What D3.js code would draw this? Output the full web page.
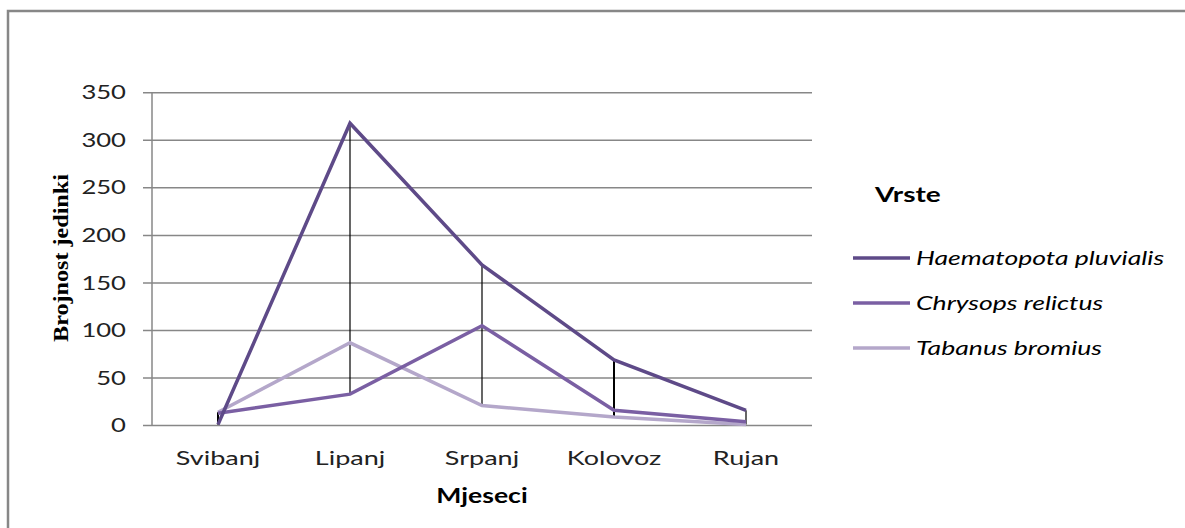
<!DOCTYPE html>
<html><head><meta charset="utf-8">
<script src="https://cdn.jsdelivr.net/npm/d3@7"></script>
<style>body{margin:0;background:#fff}svg{display:block}</style>
</head><body>
<script>
const months = ["Svibanj","Lipanj","Srpanj","Kolovoz","Rujan"];
const seriesNames = ["Haematopota pluvialis","Chrysops relictus","Tabanus bromius"];
const haematopota = [1, 318, 169, 69, 16];
const chrysops = [13, 33, 105, 16, 4];
const tabanus = [14, 87, 21, 9, 1];
const yTicks = [0,50,100,150,200,250,300,350];
const colors = ["#5e4a88","#7a5fa3","#b4a7ca"];

const W=1185,H=528;
const FONT="Lato, 'Open Sans', sans-serif";
const SX=1.35;
const svg=d3.select("body").append("svg").attr("width",W).attr("height",H);
svg.append("rect").attr("x",8).attr("y",11).attr("width",W+10).attr("height",H+10)
  .attr("fill","#fff").attr("stroke","#878787").attr("stroke-width",2.5);

const x0=152,x1=812,yTop=92.8,yBot=425.5;
const x=d3.scaleBand().domain(months).range([x0,x1]);
const y=d3.scaleLinear().domain([0,350]).range([yBot,yTop]);
const cx=m=>x(m)+x.bandwidth()/2;

// gridlines
svg.append("g").selectAll("line").data(yTicks).join("line")
  .attr("x1",x0-9).attr("x2",x1).attr("y1",d=>y(d)).attr("y2",d=>y(d))
  .attr("stroke","#878787").attr("stroke-width",1.5);
svg.append("line").attr("x1",x0).attr("x2",x0).attr("y1",yTop).attr("y2",yBot)
  .attr("stroke","#878787").attr("stroke-width",1.5);

const yAxis=svg.append("g").attr("transform",`translate(126,0)`)
  .call(d3.axisLeft(y).tickValues(yTicks).tickSize(0).tickPadding(0));
yAxis.select(".domain").remove();
yAxis.selectAll("text").attr("font-family",FONT).attr("font-size",19).attr("fill","#222")
  .attr("transform",`scale(${SX},1)`);

const xAxis=svg.append("g").attr("transform",`translate(0,${yBot})`)
  .call(d3.axisBottom(x).tickSize(0).tickPadding(25));
xAxis.select(".domain").remove();
xAxis.selectAll("text").attr("font-family",FONT).attr("font-size",20).attr("fill","#222")
  .attr("transform",`scale(${SX},1)`);

// hi-lo lines
const all=[haematopota,chrysops,tabanus];
svg.append("g").selectAll("line").data(months).join("line")
  .attr("x1",cx).attr("x2",cx)
  .attr("y1",(m,i)=>y(d3.max(all,s=>s[i])))
  .attr("y2",(m,i)=>y(d3.min(all,s=>s[i])))
  .attr("stroke","#000").attr("stroke-width",(m,i)=>i===3||i===0?2:1.2);

// lines
const line=d3.line().x((d,i)=>cx(months[i])).y(d=>y(d));
[tabanus,chrysops,haematopota].forEach((s,k)=>{
  svg.append("path").attr("d",line(s)).attr("fill","none")
    .attr("stroke",colors[2-k]).attr("stroke-width",3.5).attr("stroke-linejoin","miter");
});

// axis titles
svg.append("text").attr("transform","translate(68,258) rotate(-90) scale(1.15,1)").attr("text-anchor","middle")
  .attr("font-family","'Liberation Serif', 'Times New Roman', serif").attr("font-weight","bold")
  .attr("font-size",21).text("Brojnost jedinki");
svg.append("text").attr("transform",`translate(${cx("Srpanj")},503) scale(1.33,1)`).attr("text-anchor","middle")
  .attr("font-family",FONT).attr("font-weight","bold")
  .attr("font-size",20).text("Mjeseci");

// legend
svg.append("text").attr("transform","translate(875,202) scale(1.4,1)").attr("font-family",FONT)
  .attr("font-weight","bold").attr("font-size",20).text("Vrste");
const lg=svg.append("g").selectAll("g").data(seriesNames).join("g")
  .attr("transform",(d,i)=>`translate(853,${258+i*45})`);
lg.append("line").attr("x1",0).attr("x2",57).attr("stroke",(d,i)=>colors[i]).attr("stroke-width",3.5);
lg.append("text").attr("transform","translate(63,7) scale(1.33,1)").attr("font-family",FONT)
  .attr("font-style","italic").attr("font-size",20).text(d=>d);
</script>
</body></html>
